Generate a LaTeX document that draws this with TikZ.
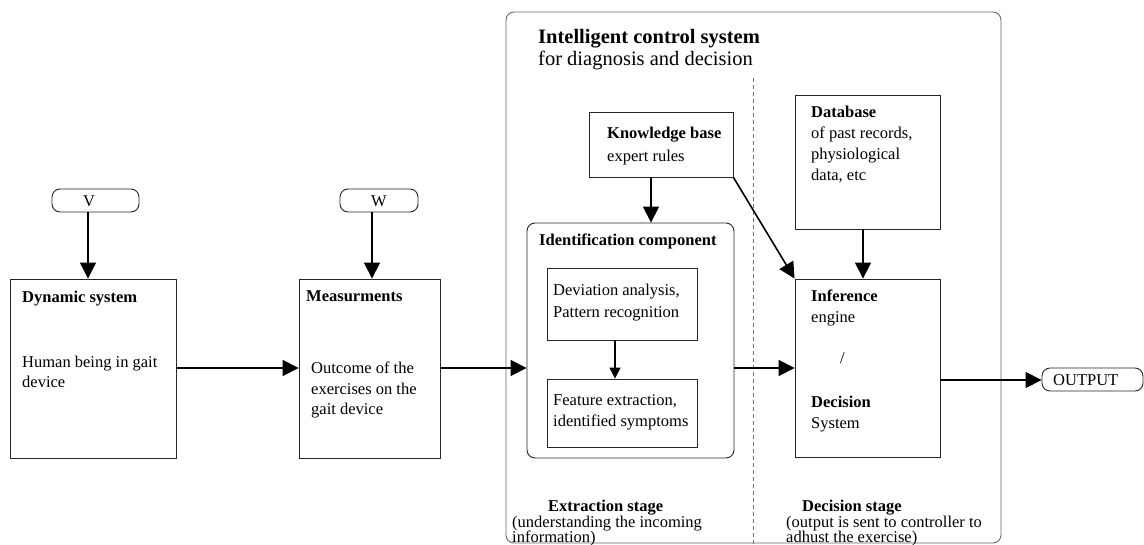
\documentclass[tikz,border=0pt]{standalone}
\usepackage{fontspec}
\setmainfont{Liberation Serif}
\usetikzlibrary{arrows.meta,fit,calc}
\begin{document}
\begin{tikzpicture}[x=1pt,y=-1pt,
  box/.style={draw=black!85, line width=0.9pt, inner sep=0pt},
  rbox/.style={box, rounded corners=8pt},
  capsule/.style={box, rounded corners=8pt},
  arr/.style={line width=1.6pt, -{Triangle[length=16pt,width=16pt]}},
  sarr/.style={line width=1.3pt, -{Triangle[length=11pt,width=11pt]}},
  t/.style={anchor=base west, inner sep=0pt, font=\fontsize{16.5}{20}\selectfont},
  tt/.style={anchor=base west, inner sep=0pt, font=\fontsize{20.5}{24}\selectfont},
  tc/.style={anchor=base, inner sep=0pt, font=\fontsize{16.5}{20}\selectfont}]
\useasboundingbox (0,0) rectangle (1144,544);
\fill[white] (0,0) rectangle (1144,544);

% outer container
\node[rbox, draw=black!60, fit={(506,12) (1001,543)}] (ics) {};
\coordinate (dtop) at (753,78);
\coordinate (dbot) at (753,544);
\draw[black!55, line width=0.9pt, dash pattern=on 4pt off 3pt] (dtop) -- (dbot);

% boxes
\node[capsule, fit={(52,189) (139,212)}] (V) {};
\node[capsule, fit={(340,189) (418,212)}] (W) {};
\node[box, fit={(10,279) (176,458)}] (dyn) {};
\node[box, fit={(299,279) (440,458)}] (meas) {};
\node[box, fit={(589,112) (733,177)}] (kb) {};
\node[rbox, fit={(527,223) (734,458)}] (ident) {};
\node[box, fit={(547,268) (697,340)}] (dev) {};
\node[box, fit={(547,379) (697,447)}] (feat) {};
\node[box, fit={(795,95) (940,229)}] (db) {};
\node[box, fit={(795,279) (940,457)}] (inf) {};
\node[capsule, fit={(1042,368) (1143,391)}] (out) {};

% texts
\node[tc] (Vt) at (89,206) {V};
\node[tc] (Wt) at (379,206) {W};
\node[t] (dyn1) at (22,302) {\textbf{Dynamic system}};
\node[t] (dyn2) at (22,367) {Human being in gait};
\node[t] (dyn3) at (22,387) {device};
\node[t] (meas1) at (306,301) {\textbf{Measurments}};
\node[t] (meas2) at (311,373) {Outcome of the};
\node[t] (meas3) at (311,394) {exercises on the};
\node[t] (meas4) at (311,414) {gait device};
\node[tt] (ti1) at (538,43) {\textbf{Intelligent control system}};
\node[tt] (ti2) at (538,65) {for diagnosis and decision};
\node[t] (kb1) at (607,138) {\textbf{Knowledge base}};
\node[t] (kb2) at (607,161) {expert rules};
\node[t] (id1) at (539,245) {\textbf{Identification component}};
\node[t] (dev1) at (553,295) {Deviation analysis,};
\node[t] (dev2) at (553,317) {Pattern recognition};
\node[t] (feat1) at (553,405) {Feature extraction,};
\node[t] (feat2) at (553,426) {identified symptoms};
\node[t] (db1) at (811,117) {\textbf{Database}};
\node[t] (db2) at (811,138) {of past records,};
\node[t] (db3) at (811,159) {physiological};
\node[t] (db4) at (811,180) {data, etc};
\node[t] (inf1) at (811,301) {\textbf{Inference}};
\node[t] (inf2) at (811,322) {engine};
\node[t] (inf3) at (840,363) {/};
\node[t] (inf4) at (811,407) {\textbf{Decision}};
\node[t] (inf5) at (811,428) {System};
\node[t] (outt) at (1053,385) {OUTPUT};
\node[t] (ex1) at (548,511) {\textbf{Extraction stage}};
\node[t] (ex2) at (512,527) {(understanding the incoming};
\node[t] (ex3) at (512,542) {information)};
\node[t] (de1) at (802,511) {\textbf{Decision stage}};
\node[t] (de2) at (786,527) {(output is sent to controller to};
\node[t] (de3) at (786,542) {adhust the exercise)};

% connectors
\coordinate (vx) at (88,0);
\coordinate (wx) at (372,0);
\coordinate (kx) at (651,0);
\coordinate (dx) at (615,0);
\coordinate (bx) at (863,0);
\coordinate (row) at (0,368);
\coordinate (orow) at (0,380);
\draw[arr] (V.south -| vx) -- (dyn.north -| vx);
\draw[arr] (W.south -| wx) -- (meas.north -| wx);
\draw[arr] (dyn.east |- row) -- (meas.west |- row);
\draw[arr] (meas.east |- row) -- (ident.west |- row);
\draw[arr] (kb.south -| kx) -- (ident.north -| kx);
\draw[sarr] (dev.south -| dx) -- (feat.north -| dx);
\draw[arr] (kb.south east) -- (inf.north west);
\draw[arr] (ident.east |- row) -- (inf.west |- row);
\draw[arr] (db.south -| bx) -- (inf.north -| bx);
\draw[arr] (inf.east |- orow) -- (out.west |- orow);
\end{tikzpicture}
\end{document}
